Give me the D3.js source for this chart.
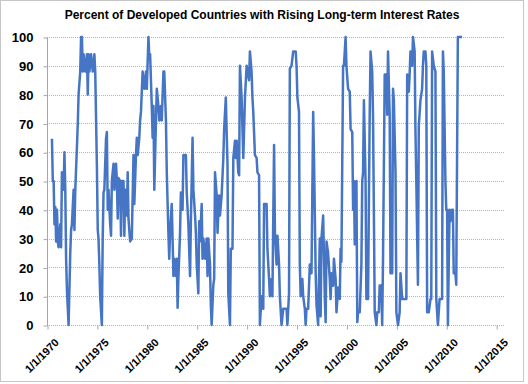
<!DOCTYPE html>
<html>
<head>
<meta charset="utf-8">
<script src="https://cdn.jsdelivr.net/npm/d3@7/dist/d3.min.js"></script>
<style>
  html, body { margin: 0; padding: 0; background: #fff; }
  svg { display: block; font-family: 'Liberation Sans', Arial, sans-serif; }
</style>
</head>
<body>
<svg id="chart" width="528" height="384"></svg>
<script>
// --- data (month, percent of countries) ---
const title = "Percent of Developed Countries with Rising Long-term Interest Rates";

const dates = [
  "1970-07","1970-08","1970-09","1970-10","1970-11","1970-12",
  "1971-01","1971-02","1971-03","1971-05","1971-06","1971-07","1971-09","1971-10","1971-11","1971-12",
  "1972-01","1972-03","1972-05","1972-06","1972-07","1972-09","1972-10","1972-11",
  "1973-01","1973-02","1973-03","1973-05","1973-06","1973-07","1973-08","1973-09","1973-11",
  "1974-01","1974-02","1974-03","1974-04","1974-06","1974-08","1974-10","1974-11",
  "1975-01","1975-02","1975-03","1975-04","1975-05","1975-07","1975-08","1975-09","1975-10","1975-12",
  "1976-01","1976-02","1976-03","1976-05","1976-06","1976-07","1976-09","1976-10","1976-12",
  "1977-01","1977-02","1977-03","1977-05","1977-06","1977-07","1977-09","1977-10","1977-11",
  "1978-01","1978-02","1978-03","1978-05","1978-07","1978-09","1978-10","1978-12",
  "1979-01","1979-02","1979-04","1979-05","1979-06","1979-08","1979-10","1979-12",
  "1980-01","1980-03","1980-04","1980-05","1980-07","1980-08","1980-09","1980-10","1980-12",
  "1981-01","1981-03","1981-04","1981-06","1981-07","1981-09","1981-10","1981-12",
  "1982-01","1982-03","1982-04","1982-05","1982-07","1982-08","1982-09","1982-10","1982-12",
  "1983-01","1983-02","1983-03","1983-05","1983-06","1983-08","1983-09","1983-12",
  "1984-01","1984-03","1984-05","1984-06","1984-08","1984-09","1984-11","1984-12",
  "1985-01","1985-03","1985-04","1985-05","1985-07","1985-08","1985-09","1985-11",
  "1986-01","1986-02","1986-03","1986-05","1986-06","1986-07","1986-09","1986-10","1986-11",
  "1987-01","1987-02","1987-04","1987-05","1987-07","1987-09","1987-10","1987-12",
  "1988-01","1988-02","1988-03","1988-05","1988-06","1988-08","1988-09","1988-11","1988-12",
  "1989-01","1989-03","1989-04","1989-05","1989-07","1989-09","1989-11",
  "1990-01","1990-04","1990-05","1990-07","1990-08","1990-09","1990-11",
  "1991-01","1991-02","1991-04","1991-05","1991-07","1991-09","1991-10",
  "1992-01","1992-02","1992-04","1992-05","1992-07","1992-08","1992-10","1992-11",
  "1993-01","1993-02","1993-04","1993-05","1993-07","1993-09",
  "1994-01","1994-02","1994-04","1994-05","1994-07","1994-09","1994-12",
  "1995-01","1995-02","1995-04","1995-05","1995-06","1995-08","1995-09","1995-11","1995-12",
  "1996-01","1996-03","1996-05","1996-07","1996-09","1996-10","1996-12",
  "1997-01","1997-03","1997-05","1997-06","1997-07","1997-09","1997-11","1997-12",
  "1998-01","1998-03","1998-05","1998-06","1998-07","1998-09","1998-10","1998-12",
  "1999-01","1999-03","1999-05","1999-06","1999-07","1999-09","1999-10","1999-12",
  "2000-01","2000-03","2000-05","2000-06","2000-08","2000-09","2000-10","2000-11",
  "2001-01","2001-02","2001-03","2001-05","2001-07","2001-08","2001-09","2001-10","2001-12",
  "2002-01","2002-03","2002-05","2002-06","2002-08","2002-09","2002-11",
  "2003-01","2003-02","2003-04","2003-05","2003-07","2003-08","2003-09","2003-11",
  "2004-01","2004-02","2004-03","2004-05","2004-06","2004-08","2004-09","2004-10","2004-12",
  "2005-01","2005-03","2005-05","2005-06","2005-08",
  "2006-01","2006-02","2006-04","2006-05","2006-06","2006-08","2006-09","2006-11","2006-12",
  "2007-01","2007-03","2007-04","2007-06","2007-08","2007-09","2007-10","2007-12",
  "2008-01","2008-02","2008-04","2008-06","2008-07","2008-08","2008-10","2008-12",
  "2009-01","2009-03","2009-05","2009-08","2009-09","2009-10","2009-12",
  "2010-01","2010-02","2010-03","2010-05","2010-06","2010-08","2010-09","2010-10","2010-12",
  "2011-01","2011-03","2011-08"
];

const values = [
  64.7, 50, 50, 35, 41, 29,
  40, 29, 27, 35, 27, 53, 47, 60, 47, 23,
  12, 0, 25, 33, 35, 47, 33, 47,
  62, 70, 80, 88, 100, 100, 88, 94, 88,
  94, 80, 94, 88, 94, 88, 94, 88,
  55, 33, 30, 21, 10, 0, 30, 46, 47, 64.7,
  67, 40, 47, 35, 31, 50, 56, 47, 56,
  50, 37, 51, 50, 31, 50, 50, 31, 47,
  38, 53, 37, 29, 30, 59, 42, 59,
  65, 59, 65, 71, 74, 88, 82, 88,
  82, 100, 93, 94, 76, 65, 76, 47, 71,
  82, 76, 71, 76, 71, 88, 88, 71,
  53, 32, 23, 32, 42, 30, 17, 23, 17,
  23, 6, 16, 32, 46, 40, 59, 59,
  46, 35, 17, 36, 65, 47, 38, 32,
  21, 11, 36, 29, 42, 23, 30, 23,
  30, 17, 30, 21, 7, 0, 14, 16, 53,
  45, 32, 45, 38, 45, 58, 68, 79,
  67, 56, 11, 0, 26.5, 26.5, 58, 64, 58,
  64, 53, 52, 90, 79, 58, 79,
  90, 85, 95, 88, 79, 74, 59,
  58, 53, 52, 0, 10, 5.6, 42,
  42, 26.5, 16, 10, 16, 10, 62.5, 32,
  21, 31, 21, 10, 0, 5.6,
  5.6, 0, 11, 89, 90, 95, 95,
  90, 79, 74, 21, 10, 16, 10, 5.6, 0,
  5.6, 5.6, 21, 18, 74, 58, 18,
  7, 0, 30, 3, 30, 38, 9, 1,
  29, 25, 16, 9, 18, 13.6, 23, 16,
  4.4, 13, 9, 26.5, 22, 90, 90, 100,
  90, 82, 81, 68, 67, 40, 50, 28,
  50, 1, 4.4, 4.4, 21, 50, 53, 78, 50,
  9, 9, 73, 95, 88, 72, 4.4,
  0, 4.4, 4.4, 13.7, 13.7, 0, 23, 87,
  87, 73, 95, 73, 18, 18, 82, 78, 53,
  4.4, 0, 4.4, 18, 9,
  9, 87, 81, 87, 95, 90, 100, 95, 67,
  50, 14, 69, 78, 82, 90, 95, 95,
  90, 4.4, 4.4, 9, 9, 95, 90, 88,
  9, 0, 9, 9, 95, 88, 50,
  40, 40, 0, 40, 36, 40, 40, 18, 18,
  14, 100, 100
];

const yTicks = [0, 10, 20, 30, 40, 50, 60, 70, 80, 90, 100];
const xTickYears = [1970, 1975, 1980, 1985, 1990, 1995, 2000, 2005, 2010, 2015];

// --- layout ---
const W = 528, H = 384;
const plot = { left: 47, right: 505, top: 37, bottom: 325 };
const lineColor = "#4575c4";
const gridColor = "#b4b4b4";

const parseMonth = d3.utcParse("%Y-%m");
const series = dates.map((d, i) => ({ date: parseMonth(d), value: values[i] }));
if (dates.length !== values.length) console.error("length mismatch", dates.length, values.length);

const svg = d3.select("#chart");

svg.append("rect").attr("width", W).attr("height", H).attr("fill", "#fff");

// outer chart border (Excel style dotted frame)
svg.append("rect")
  .attr("x", 0.5).attr("y", 0.5)
  .attr("width", 523).attr("height", 381)
  .attr("fill", "none")
  .attr("stroke", "#8c8c8c")
  .attr("stroke-dasharray", "1,1");

const x = d3.scaleUtc()
  .domain([Date.UTC(1970, 0, 1), Date.UTC(2015, 10, 20)])
  .range([plot.left, plot.right]);

const y = d3.scaleLinear()
  .domain([0, 100])
  .range([plot.bottom, plot.top]);

// horizontal gridlines
svg.append("g")
  .selectAll("line")
  .data(yTicks)
  .join("line")
  .attr("x1", plot.left).attr("x2", plot.right)
  .attr("y1", d => Math.round(y(d)) + 0.5)
  .attr("y2", d => Math.round(y(d)) + 0.5)
  .attr("stroke", gridColor)
  .attr("stroke-dasharray", "1,1");

// y axis
const yAxis = svg.append("g")
  .attr("transform", `translate(${plot.left + 0.5},0.5)`)
  .call(d3.axisLeft(y).tickValues(yTicks).tickSize(4).tickPadding(10));
yAxis.select(".domain").attr("stroke", "#a6a6a6").attr("d", `M0,${Math.round(y(100))}V${Math.round(y(0))}`);
yAxis.selectAll(".tick line").attr("stroke", "#a6a6a6");
yAxis.selectAll(".tick text")
  .attr("fill", "#000")
  .style("font-size", "13px")
  .style("font-weight", "bold");

// x axis (ticks + rotated date labels)
const xAxis = svg.append("g")
  .attr("transform", `translate(0.5,${Math.round(y(0)) + 0.5})`)
  .call(d3.axisBottom(x)
    .tickValues(xTickYears.map(yr => new Date(Date.UTC(yr, 0, 1))))
    .tickFormat(d3.utcFormat("%-m/%-d/%Y"))
    .tickSize(4));
xAxis.select(".domain").remove();
xAxis.selectAll(".tick line").attr("stroke", "#a6a6a6");
xAxis.selectAll(".tick text")
  .attr("fill", "#000")
  .style("font-size", "11px")
  .style("font-weight", "bold")
  .attr("text-anchor", "end")
  .attr("dy", "0.35em")
  .attr("transform", "translate(4,10) rotate(-45)");

// the series line
const line = d3.line()
  .x(d => x(d.date))
  .y(d => y(d.value));

svg.append("path")
  .datum(series)
  .attr("d", line)
  .attr("fill", "none")
  .attr("stroke", lineColor)
  .attr("stroke-width", 2.5)
  .attr("stroke-linejoin", "round");

// title
svg.append("text")
  .attr("x", 262).attr("y", 19)
  .attr("text-anchor", "middle")
  .style("font-size", "12px")
  .style("font-weight", "bold")
  .text(title);
</script>
</body>
</html>
